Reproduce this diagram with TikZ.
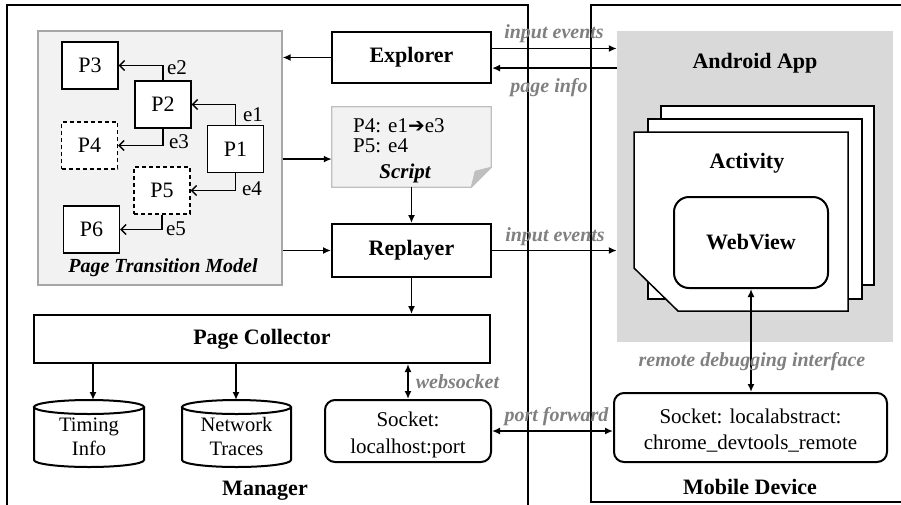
\documentclass[tikz,border=0pt]{standalone}
\usepackage{fontspec}
\setmainfont{Liberation Serif}
\newfontfamily\dejavu{DejaVu Sans}
\usetikzlibrary{arrows.meta,calc}
\definecolor{labgray}{HTML}{808080}
\definecolor{ptmfill}{HTML}{F2F2F2}
\definecolor{ptmdraw}{HTML}{A6A6A6}
\definecolor{appfill}{HTML}{D9D9D9}
\definecolor{foldfill}{HTML}{BFBFBF}
\tikzset{
  mainbox/.style={draw, line width=2pt, minimum width=159pt, minimum height=51pt, inner sep=0pt, font=\fontsize{22}{26}\selectfont\bfseries},
  pbox/.style={draw, line width=1.4pt, fill=white, minimum width=56pt, minimum height=47pt, inner sep=0pt, font=\fontsize{22}{26}\selectfont},
  pdash/.style={pbox, dash pattern=on 4pt off 3pt},
  elab/.style={inner sep=0pt, font=\fontsize{21}{24}\selectfont},
  txt/.style={inner sep=0pt, anchor=base, font=\fontsize{20.5}{24}\selectfont},
  glab/.style={inner sep=0pt, text=labgray, font=\fontsize{20}{24}\selectfont\bfseries\itshape},
  title/.style={inner sep=0pt, font=\fontsize{22}{26}\selectfont\bfseries},
  sockbox/.style={draw, line width=2pt, rounded corners=10pt, inner sep=0pt},
  cyl/.style={line width=2pt},
  arr/.style={line width=1.6pt, -{Latex[length=8pt,width=7pt]}},
  darr/.style={line width=1.6pt, {Latex[length=8pt,width=7pt]}-{Latex[length=8pt,width=7pt]}},
  barb/.style={line width=1.3pt, -{Straight Barb[length=5pt,width=10pt]}},
  frame/.style={line width=1.3pt},
  page/.style={line width=1.5pt, fill=white}
}
\begin{document}
\begin{tikzpicture}[x=1pt,y=-1pt]
\clip (0,0) rectangle (901,504);
% outer frames
\draw[frame] (7,5) rectangle (528,520);
\draw[frame] (591,5) rectangle (920,502);
\node[title] (manager) at (265,491) {Manager};
\node[title] (mobile) at (750,487) {Mobile Device};

% page transition model
\node[draw=ptmdraw, fill=ptmfill, line width=1.2pt, minimum width=244pt, minimum height=254pt, inner sep=0pt] (ptm) at (160,158) {};
\node[glab, text=black] (ptmlab) at (163,268) {Page Transition Model};
\node[pbox] (p3) at (90,65.5) {P3};
\node[pbox] (p2) at (163,104.5) {P2};
\node[pbox] (p1) at (235.5,149) {P1};
\node[pdash] (p4) at (89.5,145.5) {P4};
\node[pdash] (p5) at (162,190.5) {P5};
\node[pbox] (p6) at (91.5,229.5) {P6};
\draw[barb] (p2.north) |- (p3.east);
\draw[barb] (p1.north) |- (p2.east);
\draw[barb] (p2.south) |- (p4.east);
\draw[barb] (p1.south) |- (p5.east);
\draw[barb] (p5.south) |- (p6.east);
\node[elab] (e2) at (177,68) {e2};
\node[elab] (e1) at (253,115) {e1};
\node[elab] (e3) at (179,142) {e3};
\node[elab] (e4) at (252,189) {e4};
\node[elab] (e5) at (176,229) {e5};

% explorer, script, replayer
\node[mainbox] (explorer) at (411.5,57.5) {Explorer};
\node[minimum width=159pt, minimum height=80pt, inner sep=0pt] (script) at (411.5,147) {};
\draw[line width=1.2pt, draw=foldfill, fill=ptmfill] (script.north west) -- (script.north east) -- ($(script.south east)+(0,-20)$) -- ($(script.south east)+(-20,0)$) -- (script.south west) -- cycle;
\draw[line width=0.8pt, draw=foldfill, fill=foldfill] ($(script.south east)+(-20,0)$) -- ($(script.south east)+(-16,-16)$) -- ($(script.south east)+(0,-20)$) -- cycle;
\node[elab, anchor=west] (s1) at (353,126) {P4: e1{\dejavu\fontsize{20}{22}\selectfont ➔}e3};
\node[elab, anchor=west] (s2) at (353,146) {P5: e4};
\node[glab, text=black, font=\fontsize{21}{24}\selectfont\bfseries\itshape] (s3) at (405,173) {Script};
\node[mainbox, minimum height=53pt] (replayer) at (411.5,250.5) {Replayer};

\draw[arr] (explorer.west) -- (ptm.east |- explorer.west);
\coordinate (sIn) at ($(script.north west)!0.65!(script.south west)$);
\draw[arr] (ptm.east |- sIn) -- (sIn);
\draw[arr] (ptm.east |- replayer.west) -- (replayer.west);
\draw[arr] (script.south) -- (replayer.north);

% page collector
\node[draw, line width=2pt, minimum width=456pt, minimum height=48pt, inner sep=0pt, font=\fontsize{22}{26}\selectfont\bfseries] (pc) at (262,339) {Page Collector};
\draw[arr] (replayer.south) -- (replayer.south |- pc.north);

% cylinders
\draw[cyl] (34,407) -- (34,460) arc[start angle=180, end angle=0, x radius=55, y radius=7] -- (144,407);
\draw[cyl] (89,407) ellipse[x radius=55, y radius=7];
\node[txt] (timing1) at (89,431) {Timing};
\node[txt] (timing2) at (89,455) {Info};
\draw[cyl] (182,407) -- (182,460) arc[start angle=180, end angle=0, x radius=54.5, y radius=7] -- (291,407);
\draw[cyl] (236.5,407) ellipse[x radius=54.5, y radius=7];
\node[txt] (network1) at (236.5,431) {Network};
\node[txt] (network2) at (236.5,455) {Traces};
\coordinate (tiTop) at (93,400);
\coordinate (ntTop) at (236,400);
\draw[arr] (pc.south -| tiTop) -- (tiTop);
\draw[arr] (pc.south -| ntTop) -- (ntTop);

% sockets
\node[sockbox, minimum width=166pt, minimum height=62pt] (sock) at (408,431) {};
\node[txt, font=\fontsize{21}{24}\selectfont] (sock1) at (408,426) {Socket:};
\node[txt, font=\fontsize{21}{24}\selectfont] (sock2) at (408,453) {localhost:port};
\draw[darr] (sock.north) -- (sock.north |- pc.south);
\node[glab] (wslab) at (457.5,382) {websocket};
\node[sockbox, minimum width=273pt, minimum height=69pt] (dsock) at (750.5,427.5) {};
\node[txt, font=\fontsize{21}{24}\selectfont] (dsock1) at (750.5,423) {Socket: localabstract:};
\node[txt, font=\fontsize{21}{24}\selectfont] (dsock2) at (750.5,449) {chrome\_devtools\_remote};
\draw[darr] (sock.east) -- (dsock.west |- sock.east);
\node[glab] (pflab) at (556.5,417) {port forward};

% android app
\node[fill=appfill, minimum width=276pt, minimum height=311pt, inner sep=0pt] (app) at (755,186.5) {};
\node[title] (applab) at (755,63) {Android App};
\draw[page] (661,106) rectangle (874,285);
\draw[page] (648,119) rectangle (862,299);
\draw[page] (634,132) -- (848,132) -- (848,311) -- (678,311) -- (634,268) -- cycle;
\node[title] (actlab) at (747,163) {Activity};
\node[draw, line width=2pt, rounded corners=15pt, minimum width=154pt, minimum height=91pt, inner sep=0pt, font=\fontsize{22}{26}\selectfont\bfseries] (webview) at (751,242.5) {WebView};
\draw[darr] (webview.south) -- (webview.south |- dsock.north);
\node[glab] (rdlab) at (752,362) {remote debugging interface};

% explorer / replayer to app
\coordinate (eOut) at ($(explorer.north east)!0.33!(explorer.south east)$);
\coordinate (eIn) at ($(explorer.north east)!0.70!(explorer.south east)$);
\draw[arr] (eOut) -- (app.west |- eOut);
\draw[arr] (app.west |- eIn) -- (eIn);
\draw[arr] (replayer.east) -- (app.west |- replayer.east);
\node[glab] (ie1) at (554,34) {input events};
\node[glab] (pilab) at (549,88) {page info};
\node[glab] (ie2) at (555,237) {input events};
\end{tikzpicture}
\end{document}
